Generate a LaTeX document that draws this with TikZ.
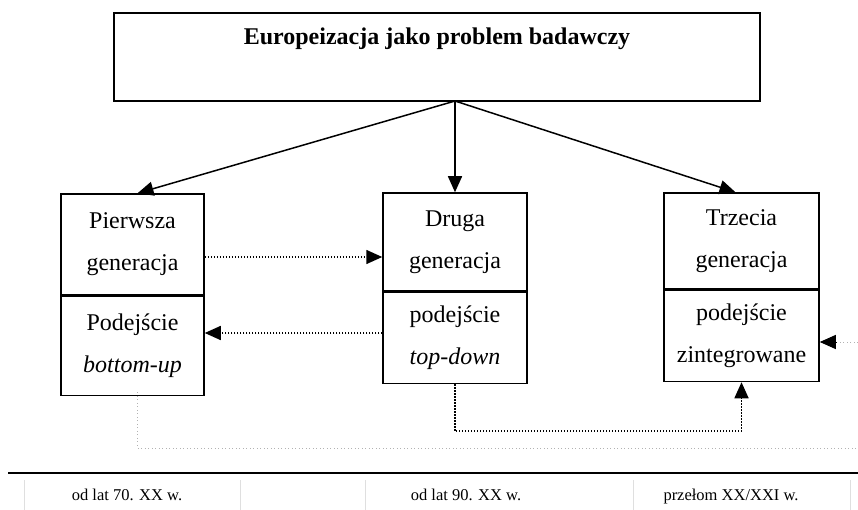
\documentclass[tikz,border=0pt]{standalone}
\usepackage{fontspec}
\setmainfont{Liberation Serif}
\usetikzlibrary{positioning,arrows.meta}

\tikzset{
  box/.style={draw,line width=1.5pt,inner sep=0pt,align=center,
    font=\fontsize{24}{42}\selectfont},
  tip/.style={-{Triangle[length=16pt,width=14pt]}},
  dotline/.style={line width=1.6pt,dash pattern=on 1.4pt off 1.6pt},
  grayline/.style={line width=1pt,gray!60,dash pattern=on 1pt off 2.5pt},
  sep/.style={gray!25,line width=0.8pt},
  era/.style={font=\fontsize{16.5}{20}\selectfont,anchor=base}
}

\begin{document}
\begin{tikzpicture}[x=1pt,y=-1pt]
\useasboundingbox (0,0) rectangle (858,510);

% nodes
\node (top) [box,minimum width=646pt,minimum height=88pt] at (437,57)
  {\fontsize{24}{30}\selectfont\bfseries Europeizacja jako problem badawczy\\ \mbox{}};
\coordinate (hub) at (455,101);

\node (p1) [box,minimum width=143pt,minimum height=101pt] at (132.5,244.5) {Pierwsza\\generacja};
\node (p1b) [box,minimum width=143pt,minimum height=99pt,below=0pt of p1] {Podejście\\\textit{bottom-up}};
\node (p2) [box,minimum width=144pt,minimum height=98pt] at (455,242) {Druga\\generacja};
\node (p2b) [box,minimum width=144pt,minimum height=91pt,below=0pt of p2] {podejście\\\textit{top-down}};
\node (p3) [box,minimum width=155pt,minimum height=96pt] at (741.5,241) {Trzecia\\generacja};
\node (p3b) [box,minimum width=155pt,minimum height=91pt,below=0pt of p3] {podejście\\zintegrowane};

\coordinate (edge1) at (858,448);
\coordinate (edge2) at (858,342);

% arrows
\draw[tip,line width=1.5pt] (hub) -- ([xshift=5pt]p1.north);
\draw[tip,line width=1.5pt] (hub) -- (p2.north);
\draw[tip,line width=1.5pt] (hub) -- ([xshift=-6pt]p3.north);

\draw[dotline,tip] (p1.east |- 0,257) -- (p2.west |- 0,257);
\draw[dotline,tip] (p2b.west |- 0,333) -- (p1b.east |- 0,333);
\draw[dotline,tip] (p2b.south) -- ++(0,47) -| (p3b.south);
\draw[grayline] ([xshift=5pt,yshift=4pt]p1b.south) |- (edge1);
\draw[grayline] (edge2) -- ([xshift=16pt]edge2 -| p3b.east);
\draw[tip,line width=1pt] ([xshift=16pt]edge2 -| p3b.east) -- (edge2 -| p3b.east);

% time line
\draw[line width=2pt] (8,473) -- (858,473);
\foreach \x in {24,240,365,633,850}
  \draw[sep] (\x,480) -- (\x,510);
\node (t1) [era] at (127,500) {od lat 70. XX w.};
\node (t2) [era] at (466,500) {od lat 90. XX w.};
\node (t3) [era] at (731,500) {przełom XX/XXI w.};
\end{tikzpicture}
\end{document}
